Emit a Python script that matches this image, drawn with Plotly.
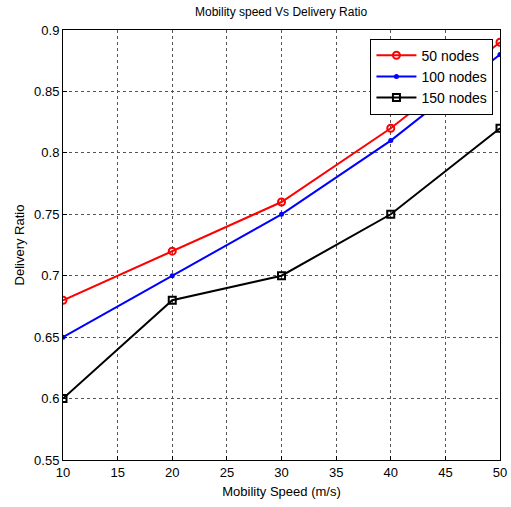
import plotly.graph_objects as go

speed = [10, 20, 30, 40, 50]
nodes50 = [0.68, 0.72, 0.76, 0.82, 0.89]
nodes100 = [0.65, 0.70, 0.75, 0.81, 0.88]
nodes150 = [0.60, 0.68, 0.70, 0.75, 0.82]

fig = go.Figure()
fig.add_trace(go.Scatter(x=speed, y=nodes50, name="50 nodes", mode="lines+markers",
                         line=dict(color="red", width=2),
                         marker=dict(symbol="circle-open", size=7, color="red", line=dict(width=2))))
fig.add_trace(go.Scatter(x=speed, y=nodes100, name="100 nodes", mode="lines+markers",
                         line=dict(color="blue", width=2),
                         marker=dict(symbol="circle", size=5, color="blue")))
fig.add_trace(go.Scatter(x=speed, y=nodes150, name="150 nodes", mode="lines+markers",
                         line=dict(color="black", width=2),
                         marker=dict(symbol="square-open", size=7, color="black", line=dict(width=2))))

axis_common = dict(showline=True, linecolor="black", linewidth=1, mirror=True,
                   ticks="inside", ticklen=4, tickcolor="black",
                   showgrid=True, gridcolor="#555", griddash="dot", gridwidth=1,
                   zeroline=False, automargin=False,
                   tickfont=dict(family="Liberation Sans, Arial", size=13, color="black"))

fig.update_layout(
    width=511, height=507,
    margin=dict(l=63, r=11, t=30, b=47),
    paper_bgcolor="white", plot_bgcolor="white",
    title=dict(text="Mobility speed Vs Delivery Ratio", x=0.55, xanchor="center", y=0.985, yanchor="top",
               font=dict(family="Liberation Sans, Arial", size=12, color="black")),
    xaxis=dict(range=[10, 50], tickvals=[10, 15, 20, 25, 30, 35, 40, 45, 50],
               title=dict(text="Mobility Speed (m/s)", standoff=8,
                          font=dict(family="Liberation Sans, Arial", size=13, color="black")),
               **axis_common),
    yaxis=dict(range=[0.55, 0.9], tickvals=[0.55, 0.6, 0.65, 0.7, 0.75, 0.8, 0.85, 0.9],
               ticktext=["0.55", "0.6", "0.65", "0.7", "0.75", "0.8", "0.85", "0.9"],
               title=dict(text="Delivery Ratio", standoff=6,
                          font=dict(family="Liberation Sans, Arial", size=13, color="black")),
               **axis_common),
    legend=dict(x=0.985, y=0.98, xanchor="right", yanchor="top",
                bgcolor="white", bordercolor="black", borderwidth=1,
                font=dict(family="Liberation Sans, Arial", size=14, color="black"),
                itemwidth=40),
    showlegend=True,
)

fig.write_html("out.html")
